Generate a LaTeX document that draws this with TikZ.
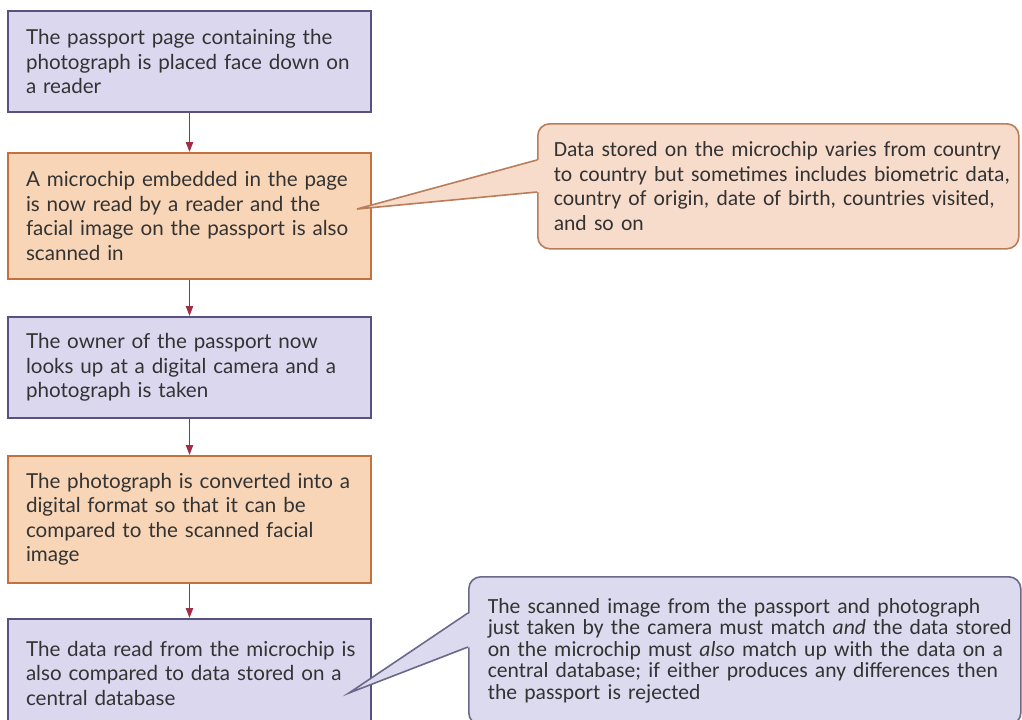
\documentclass[tikz,border=0pt]{standalone}
\usepackage{fontspec}
\setmainfont{Lato}
\newfontfamily\notefont{Carlito}
\usetikzlibrary{arrows.meta,calc}
\hyphenpenalty=10000
\exhyphenpenalty=10000

\definecolor{lilacfill}{HTML}{DAD7EF}
\definecolor{lilacline}{HTML}{57527F}
\definecolor{peachfill}{HTML}{F8D5B6}
\definecolor{peachline}{HTML}{C5703F}
\definecolor{notepeach}{HTML}{F7DCCB}
\definecolor{notepeachline}{HTML}{B97D5A}
\definecolor{notelilac}{HTML}{DCDAEE}
\definecolor{notelilacline}{HTML}{6B6889}
\definecolor{flowred}{HTML}{A02C45}
\definecolor{ink}{HTML}{333333}

\begin{document}
\begin{tikzpicture}[x=0.5pt,y=-0.5pt,
  stepbox/.style={anchor=north west, line width=1pt, inner xsep=9pt,
    text width=163.5pt, minimum width=181.5pt, align=left, text=ink,
    font=\fontsize{10.3}{12.25}\selectfont},
  lilac/.style={stepbox, draw=lilacline, fill=lilacfill},
  peach/.style={stepbox, draw=peachline, fill=peachfill},
  flow/.style={draw=flowred, line width=0.8pt, -{Triangle[length=5pt,width=3.6pt]}},
  note/.style={anchor=north west, line width=0.8pt, rounded corners=6pt,
    align=left, text=ink},
  tail/.style={line width=0.8pt, line join=miter}]
\clip (0,0) rectangle (1022,719);
\fill[white] (0,0) rectangle (1022,719);

% steps down the left
\node[lilac, minimum height=50.5pt] (place) at (7,10)
  {The passport page containing the\\ photograph is placed face down on\\ a reader};
\node[peach, minimum height=63pt] (chip) at (7,152)
  {A microchip embedded in the page\\ is now read by a reader and the\\ facial image on the passport is also\\ scanned in};
\node[lilac, minimum height=50.5pt] (camera) at (7,316)
  {The owner of the passport now\\ looks up at a digital camera and a\\ photograph is taken};
\node[peach, minimum height=63.5pt] (convert) at (7,455)
  {The photograph is converted into a\\ digital format so that it can be\\ compared to the scanned facial\\ image};
\node[lilac, minimum height=54pt] (database) at (7,618)
  {\mbox{The data read from the microchip is}\\ also compared to data stored on a\\ central database};

\draw[flow] (place) -- (chip);
\draw[flow] (chip) -- (camera);
\draw[flow] (camera) -- (convert);
\draw[flow] (convert) -- (database);

% callouts
\node[note, draw=notepeachline, fill=notepeach, minimum width=240.5pt,
  minimum height=62.5pt, inner xsep=8pt, text width=224.5pt,
  font=\notefont\fontsize{10.8}{12.25}\selectfont] (chipnote) at (537,123)
  {\mbox{Data stored on the microchip varies from country}\\
   \mbox{to country but sometimes includes biometric data,}\\
   \mbox{country of origin, date of birth, countries visited,}\\
   and so on};
\node[note, draw=notelilacline, fill=notelilac, minimum width=276pt,
  minimum height=74pt, inner xsep=9.5pt, text width=257pt,
  font=\notefont\fontsize{10.8}{10.75}\selectfont] (checknote) at (468,576)
  {\mbox{The scanned image from the passport and photograph}\\
   \mbox{just taken by the camera must match \emph{and} the data stored}\\
   \mbox{on the microchip must \emph{also} match up with the data on a}\\
   \mbox{central database; if either produces any differences then}\\
   the passport is rejected};

\coordinate (chiptip) at ($(chip.east)+(-15,-7)$);
\coordinate (chipa) at ($(chipnote.north west)+(0,37)$);
\coordinate (chipb) at ($(chipnote.north west)+(0,69)$);
\fill[notepeach] ($(chipa)+(2,0)$) -- (chiptip) -- ($(chipb)+(2,0)$) -- cycle;
\draw[tail, notepeachline] (chipa) -- (chiptip) -- (chipb);

\coordinate (checktip) at ($(database.east)+(-23,20)$);
\coordinate (checka) at ($(checknote.north west)+(0,37)$);
\coordinate (checkb) at ($(checknote.north west)+(0,71)$);
\fill[notelilac] ($(checka)+(2,0)$) -- (checktip) -- ($(checkb)+(2,0)$) -- cycle;
\draw[tail, notelilacline] (checka) -- (checktip) -- (checkb);
\end{tikzpicture}
\end{document}
